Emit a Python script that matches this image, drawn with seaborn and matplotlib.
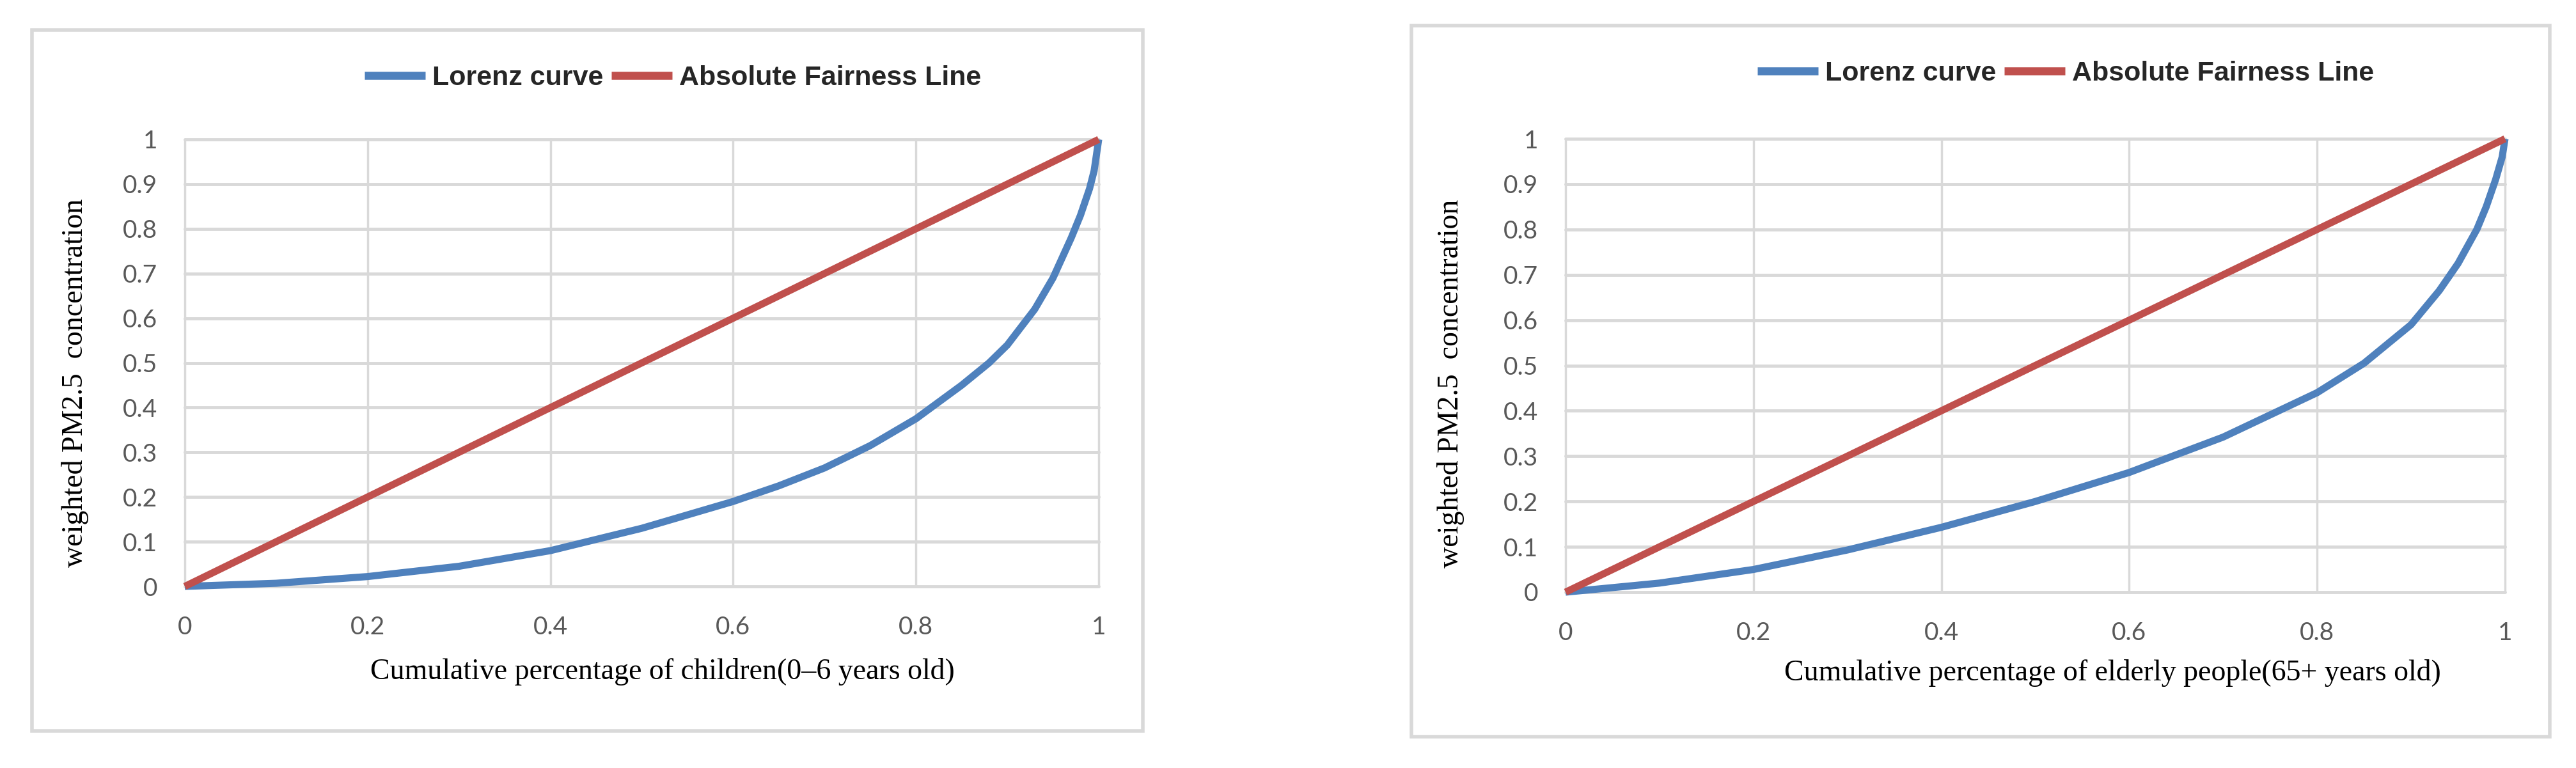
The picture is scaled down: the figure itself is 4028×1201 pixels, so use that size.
import numpy as np
import pandas as pd
import matplotlib
matplotlib.use("Agg")
import matplotlib.pyplot as plt
import seaborn as sns
from matplotlib.patches import Rectangle
from matplotlib import font_manager

# Lorenz curves
children_x = [0, 0.1, 0.2, 0.3, 0.4, 0.5, 0.55, 0.6, 0.65, 0.7, 0.75, 0.8, 0.85, 0.88, 0.9, 0.93, 0.95, 0.97, 0.98, 0.99, 0.995, 1.0]
children_y = [0, 0.007, 0.022, 0.045, 0.08, 0.13, 0.16, 0.19, 0.225, 0.265, 0.315, 0.375, 0.45, 0.5, 0.54, 0.62, 0.69, 0.78, 0.83, 0.89, 0.93, 1.0]

elderly_x = [0, 0.1, 0.2, 0.3, 0.4, 0.5, 0.6, 0.7, 0.8, 0.85, 0.9, 0.93, 0.95, 0.97, 0.98, 0.99, 0.997, 1.0]
elderly_y = [0, 0.02, 0.05, 0.093, 0.143, 0.2, 0.264, 0.342, 0.44, 0.505, 0.59, 0.665, 0.725, 0.80, 0.85, 0.91, 0.96, 1.0]

fair_x = [0, 1]
fair_y = [0, 1]

xlabels = ["Cumulative percentage of children(0\u20136 years old)",
           "Cumulative percentage of elderly people(65+ years old)"]
ylabel = "weighted PM2.5  concentration"
series = ["Lorenz curve", "Absolute Fairness Line"]
yticks = [0, 0.1, 0.2, 0.3, 0.4, 0.5, 0.6, 0.7, 0.8, 0.9, 1]
xticks = [0, 0.2, 0.4, 0.6, 0.8, 1]

palette = {"Lorenz curve": "#4F81BD", "Absolute Fairness Line": "#C0504D"}
grid_c = "#D9D9D9"

sns.set_style("white")
plt.rcParams["font.family"] = ["Lato", "DejaVu Sans"]

# condensed bold for the legend if we have it, plain Liberation otherwise
installed = {f.name for f in font_manager.fontManager.ttflist}
if "Liberation Sans Narrow" in installed:
    leg_font, leg_size = "Liberation Sans Narrow", 37
else:
    leg_font, leg_size = "Liberation Sans", 31

fig = plt.figure(figsize=(40.28, 12.01), dpi=100)
W, H = 4028, 1201


def fx(px):
    return px / W


def fy(py):
    return 1 - py / H


# panel geometry in pixels: plot area, chart frame, legend centre, label spots
panels = [
    dict(x=(289, 1718), y=(218, 917), frame=(50, 47, 1787, 1143), leg=(1052, 122),
         xlab=(1036, 1050), ylab=(118, 599), data=(children_x, children_y)),
    dict(x=(2448, 3917), y=(217, 926), frame=(2207, 40, 3987, 1152), leg=(3230, 115),
         xlab=(3303, 1053), ylab=(2269, 600), data=(elderly_x, elderly_y)),
]

for i, p in enumerate(panels):
    x0, x1 = p["x"]
    ytop, ybot = p["y"]
    ax = fig.add_axes([fx(x0), fy(ybot), fx(x1 - x0), (ybot - ytop) / H])

    lx, ly = p["data"]
    df = pd.concat([
        pd.DataFrame({"x": lx, "y": ly, "series": series[0]}),
        pd.DataFrame({"x": fair_x, "y": fair_y, "series": series[1]}),
    ])
    sns.lineplot(data=df, x="x", y="y", hue="series", hue_order=series, palette=palette,
                 estimator=None, sort=False, linewidth=8, ax=ax, zorder=3)
    for ln in ax.lines:
        ln.set_clip_on(False)
        ln.set_solid_capstyle("butt")
        ln.set_solid_joinstyle("round")

    ax.set_xlim(0, 1)
    ax.set_ylim(0, 1)
    ax.set_xticks(xticks)
    ax.set_yticks(yticks)
    ax.set_xticklabels(["0", "0.2", "0.4", "0.6", "0.8", "1"])
    ax.set_yticklabels(["0", "0.1", "0.2", "0.3", "0.4", "0.5", "0.6", "0.7", "0.8", "0.9", "1"])
    ax.tick_params(axis="both", length=0, labelsize=28, labelcolor="#595959")
    ax.tick_params(axis="y", pad=31)
    ax.tick_params(axis="x", pad=33)
    for s in ax.spines.values():
        s.set_visible(False)
    for t in yticks:
        ax.axhline(t, color=grid_c, lw=3.5, zorder=1, clip_on=False)
    for t in xticks:
        ax.axvline(t, color=grid_c, lw=2.5, zorder=1, clip_on=False)

    ax.set_xlabel(xlabels[i], family="Liberation Serif", fontsize=33, color="black")
    ax.set_ylabel(ylabel, family="Liberation Serif", fontsize=33, color="black")
    ax.xaxis.set_label_coords((p["xlab"][0] - x0) / (x1 - x0), (ybot - p["xlab"][1]) / (ybot - ytop))
    ax.xaxis.label.set_va("center")
    ax.yaxis.set_label_coords((p["ylab"][0] - x0) / (x1 - x0), (ybot - p["ylab"][1]) / (ybot - ytop))
    ax.yaxis.label.set_va("center")

    ax.legend(loc="center", bbox_to_anchor=(fx(p["leg"][0]), fy(p["leg"][1])),
              bbox_transform=fig.transFigure, ncol=2, frameon=False,
              prop={"family": leg_font, "weight": "bold", "size": leg_size},
              handlelength=2.2, handletextpad=0.25, columnspacing=0.3)
    for h in ax.get_legend().get_lines():
        h.set_linewidth(9)

    l, t, r, b = p["frame"]
    fig.add_artist(Rectangle((fx(l), fy(b)), fx(r - l), (b - t) / H, transform=fig.transFigure,
                             fill=False, edgecolor=grid_c, lw=4))

fig.savefig("out.png", dpi=100, facecolor="white")
